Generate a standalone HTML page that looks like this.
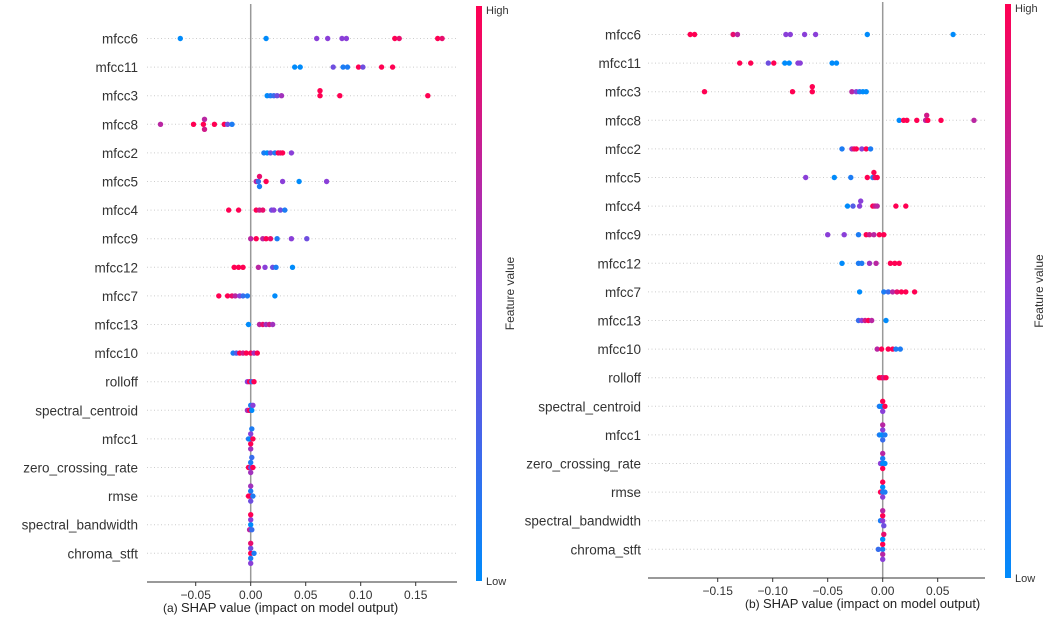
<!DOCTYPE html>
<html><head><meta charset="utf-8">
<style>
html,body{margin:0;padding:0;background:#fff;}
svg{display:block;font-family:"Liberation Sans","DejaVu Sans",sans-serif;}
</style></head>
<body>
<svg id="chart" width="1052" height="617" viewBox="0 0 1052 617">
<defs>
<linearGradient id="cbar" x1="0" y1="1" x2="0" y2="0">
<stop offset="0" stop-color="#008bfb"/>
<stop offset="0.5" stop-color="#8a3fd8"/>
<stop offset="1" stop-color="#ff0052"/>
</linearGradient>
</defs>
</svg>
<script>
const features = ["mfcc6","mfcc11","mfcc3","mfcc8","mfcc2","mfcc5","mfcc4","mfcc9","mfcc12","mfcc7","mfcc13","mfcc10","rolloff","spectral_centroid","mfcc1","zero_crossing_rate","rmse","spectral_bandwidth","chroma_stft"];
const rightFeatures = ["mfcc6","mfcc11","mfcc3","mfcc8","mfcc2","mfcc5","mfcc4","mfcc9","mfcc12","mfcc7","mfcc13","mfcc10","rolloff","spectral_centroid","mfcc1","zero_crossing_rate","rmse","spectral_bandwidth","chroma_stft"];
const tickValuesA = [-0.05,0,0.05,0.10,0.15];
const tickLabelsA = ["\u22120.05","0.00","0.05","0.10","0.15"];
const tickValuesB = [-0.15,-0.10,-0.05,0,0.05];
const tickLabelsB = ["\u22120.15","\u22120.10","\u22120.05","0.00","0.05"];
// SHAP values per feature row (panel a)
const valsA = [
 [-0.064,0.014,0.06,0.07,0.083,0.087,0.131,0.135,0.170,0.174],
 [0.040,0.045,0.075,0.084,0.088,0.098,0.102,0.119,0.129],
 [0.015,0.018,0.021,0.024,0.028,0.063,0.063,0.081,0.161],
 [-0.082,-0.052,-0.043,-0.042,-0.042,-0.033,-0.024,-0.021,-0.017],
 [0.012,0.015,0.018,0.022,0.025,0.027,0.029,0.037],
 [0.005,0.007,0.008,0.008,0.014,0.029,0.044,0.069],
 [-0.020,-0.011,0.005,0.008,0.011,0.019,0.021,0.027,0.031],
 [0.0,0.005,0.011,0.014,0.018,0.024,0.037,0.051],
 [-0.015,-0.011,-0.007,0.007,0.013,0.020,0.023,0.038],
 [-0.029,-0.021,-0.017,-0.014,-0.010,-0.007,-0.003,0.022],
 [-0.002,0.008,0.011,0.014,0.017,0.020],
 [-0.016,-0.013,-0.010,-0.007,-0.004,0.0,0.003,0.006],
 [-0.003,-0.001,0.001,0.003],
 [-0.003,-0.001,0.0,0.001,0.002],
 [-0.002,0.0,0.0,0.0,0.001,0.002,0.0],
 [-0.002,0.0,0.0,0.0,0.001,0.002],
 [-0.002,0.0,0.0,0.0,0.002,0.0],
 [0.0,0.0,-0.001,0.001,0.0],
 [0.0,0.0,0.0,0.0,0.003,0.0]
];
// Feature values (0 = low, 1 = high) per dot (panel a)
const colsA = [
 [0,0,0.5,0.5,0.5,0.5,1,0.9,1,0.9],
 [0,0,0.4,0.1,0.1,1,0.4,1,1],
 [0,0.1,0.2,0.4,0.6,1,1,1,1],
 [0.7,1,1,0.7,0.8,1,1,0.4,0.1],
 [0.1,0,0.4,0.1,1,0.9,1,0.5],
 [0.7,0.2,0.9,0.1,1,0.5,0,0.5],
 [1,1,1,0.8,0.9,0.4,0.5,0.4,0.1],
 [0.7,1,0.7,1,0.9,0.1,0.5,0.4],
 [1,1,1,0.7,0.5,0.4,0.1,0],
 [1,1,0.9,0.7,0.5,0.2,0.1,0],
 [0,0.7,0.9,0.6,0.8,0.6],
 [0.1,0.3,1,0.8,1,1,0.6,1],
 [0.5,1,0.2,1],
 [0.6,1,0.1,0,0.5],
 [0.1,0,0.5,1,0.1,1,0.6],
 [1,0.4,0.1,0.6,0.2,1],
 [1,1,0.1,0.4,0.1,0.6],
 [0,0.5,0.7,0.2,1],
 [1,0.4,0.1,0.9,0.1,0.5]
];
// panel b
const valsB = [
 [-0.175,-0.171,-0.136,-0.132,-0.088,-0.084,-0.071,-0.061,-0.014,0.064],
 [-0.130,-0.120,-0.104,-0.099,-0.089,-0.085,-0.077,-0.075,-0.046,-0.042],
 [-0.162,-0.082,-0.064,-0.064,-0.028,-0.024,-0.021,-0.018,-0.015],
 [0.015,0.019,0.022,0.031,0.039,0.041,0.040,0.053,0.083],
 [-0.037,-0.028,-0.026,-0.024,-0.019,-0.015,-0.011],
 [-0.070,-0.044,-0.029,-0.014,-0.009,-0.007,-0.005,-0.008],
 [-0.032,-0.027,-0.021,-0.020,-0.009,-0.007,-0.005,0.012,0.021],
 [-0.050,-0.035,-0.022,-0.015,-0.012,-0.008,-0.003,0.001],
 [-0.037,-0.022,-0.019,-0.012,-0.006,0.007,0.011,0.015],
 [-0.021,0.001,0.005,0.009,0.013,0.017,0.021,0.029],
 [-0.022,-0.019,-0.016,-0.013,-0.010,0.003],
 [-0.005,-0.001,0.005,0.009,0.012,0.016],
 [-0.003,-0.001,0.001,0.003],
 [-0.003,-0.001,0.0,0.002,0.0],
 [-0.003,-0.001,0.0,0.0,0.002,0.0],
 [-0.002,0.0,0.0,0.0,0.002,0.0],
 [-0.002,0.0,0.0,0.0,0.002,0.0],
 [-0.002,0.0,0.0,0.001,0.0],
 [-0.004,0.0,0.0,0.0,0.0,0.0,0.001]
];
const colsB = [
 [1,1,0.9,0.7,0.5,0.5,0.5,0.5,0,0],
 [1,1,0.4,1,0,0,0.5,0.5,0,0],
 [1,1,1,1,0.7,0.5,0.1,0,0],
 [0,1,1,1,0.7,1,0.8,1,0.7],
 [0.1,0.6,0.9,1,0.5,1,0.1],
 [0.5,0,0.1,1,0.1,0.9,1,1],
 [0,0.3,0.5,0.5,1,0.8,0.7,1,1],
 [0.5,0.5,0.1,1,0.8,0.7,1,1],
 [0,0.1,0.1,0.6,0.7,1,1,1],
 [0,0.1,0.2,0.7,0.9,1,1,1],
 [0.2,0.5,0.8,1,0.7,0],
 [0.7,1,1,1,0.1,0.1],
 [1,1,0.8,1],
 [0.1,0,1,1,0.5],
 [0.1,0,0.5,0.2,0.1,0.7],
 [0.5,0,0.1,1,0,0.7],
 [1,0.1,0,0.5,0.1,1],
 [0.1,0.5,1,0.4,0.7],
 [0.2,0.1,1,0.7,0,0.5,0.9]
];

const NS = "http://www.w3.org/2000/svg";
const svg = document.getElementById('chart');
function mk(tag, attrs, parent, text){
  const e = document.createElementNS(NS, tag);
  for (const k in attrs) e.setAttribute(k, attrs[k]);
  if (text !== undefined) e.textContent = text;
  (parent||svg).appendChild(e);
  return e;
}
function colorFor(t){
  const a=[0,139,251], m=[138,63,216], b=[255,0,82];
  let c;
  if (t<0.5){const u=t/0.5;c=a.map((v,i)=>Math.round(v+(m[i]-v)*u));}
  else {const u=(t-0.5)/0.5;c=m.map((v,i)=>Math.round(v+(b[i]-v)*u));}
  return "rgb("+c.join(",")+")";
}
function drawPanel(p){
  const g = mk('g',{});
  
  
  const x = v => p.zeroX + v*p.scale;
  const y = i => p.y0 + i*p.step;
  p.feats.forEach((f,i)=>{
    const ln = mk('line',{x1:p.axL,x2:p.axR,y1:y(i),y2:y(i),stroke:'#cccccc','stroke-width':1,'stroke-dasharray':'1,2.5'},g);
    
    
    const t = mk('text',{x:p.labelX,y:y(i)+5,'text-anchor':'end','font-size':13.5,fill:'#333'},g,f);
    
    
  });
  const z = mk('line',{x1:x(0),x2:x(0),y1:p.zTop,y2:p.axY,stroke:'#999','stroke-width':1.5},g);
  
  
  p.vals.forEach((row,i)=>{
    const placed=[];
    row.forEach((v,j)=>{
      const cx=x(v);
      const offs=[0,-5,5,-10,10,-15,15];
      let k=0;
      while(k<offs.length && placed.some(q=>Math.abs(q[0]-cx)<2 && Math.abs(q[1]-(y(i)+offs[k]))<4)) k++;
      const cy=y(i)+(offs[k]||0);
      placed.push([cx,cy]);
      const d=mk('circle',{cx:cx,cy:cy,r:2.7,fill:colorFor(p.cols[i][j])},g);
      
      
    });
  });
  const ax = mk('line',{x1:p.axL,x2:p.axR,y1:p.axY,y2:p.axY,stroke:'#333','stroke-width':1},g);
  
  
  p.ticks.forEach((tv,i)=>{
    const tk=mk('line',{x1:x(tv),x2:x(tv),y1:p.axY,y2:p.axY+4,stroke:'#333'},g);
    
    
    const tl=mk('text',{x:x(tv),y:p.axY+17,'text-anchor':'middle','font-size':12,fill:'#333'},g,p.tickLabels[i]);
    
    
  });
  const xt=mk('text',{x:p.titleX,y:p.axY+30,'font-size':13,fill:'#222'},g);
  
  
  mk('tspan',{'font-size':12},xt,p.prefix+' ');
  mk('tspan',{},xt,'SHAP value (impact on model output)');
  const cb=mk('rect',{x:p.cbX,y:p.cbTop,width:6,height:p.cbBot-p.cbTop,fill:'url(#cbar)'},g);
  
  
  const hi=mk('text',{x:p.cbX+10,y:p.cbTop+8,'font-size':11,fill:'#333'},g,'High');
  
  
  const lo=mk('text',{x:p.cbX+10,y:p.cbBot+4,'font-size':11,fill:'#333'},g,'Low');
  
  
  const cy=(p.cbTop+p.cbBot)/2;
  const fv=mk('text',{x:p.cbX+38,y:cy,'font-size':12,fill:'#333','text-anchor':'middle',transform:'rotate(-90 '+(p.cbX+38)+' '+cy+')'},g,'Feature value');
  
  
}
drawPanel({name:'panel-a',feats:features,vals:valsA,cols:colsA,zeroX:250.7,scale:1100,y0:38.5,step:28.6,
  axL:147,axR:457,axY:582,zTop:4,labelX:138,ticks:tickValuesA,tickLabels:tickLabelsA,titleX:163,prefix:'(a)',
  cbX:476,cbTop:6,cbBot:581});
drawPanel({name:'panel-b',feats:rightFeatures,vals:valsB,cols:colsB,zeroX:882.7,scale:1100,y0:34.5,step:28.6,
  axL:648,axR:985,axY:578,zTop:2,labelX:641,ticks:tickValuesB,tickLabels:tickLabelsB,titleX:745,prefix:'(b)',
  cbX:1005,cbTop:4,cbBot:578});
</script>
</body></html>
